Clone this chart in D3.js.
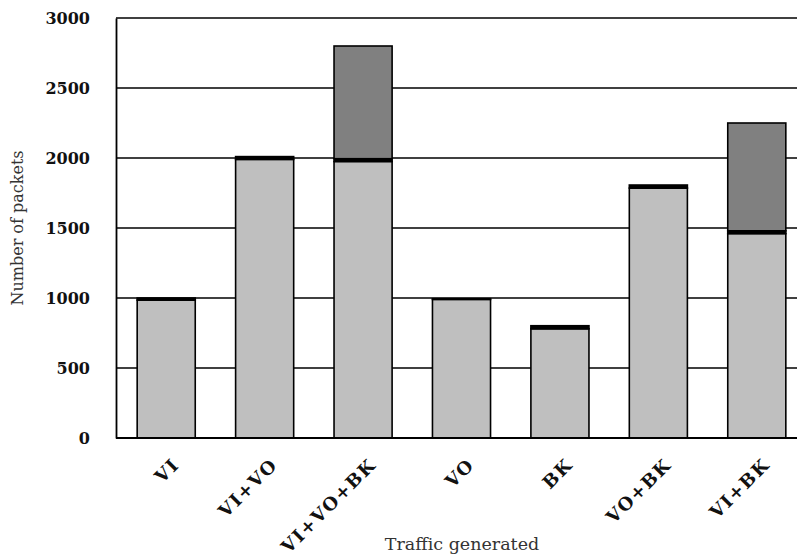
<!DOCTYPE html>
<html>
<head>
<meta charset="utf-8">
<script src="https://cdn.jsdelivr.net/npm/d3@7"></script>
<style>
  body { margin: 0; background: #fff; }
  svg { display: block; }
</style>
</head>
<body>
<svg id="chart"></svg>
<script>
const categories = ['VI', 'VI+VO', 'VI+VO+BK', 'VO', 'BK', 'VO+BK', 'VI+BK']
// stacked from bottom to top
const lightValues = [985, 1990, 1975, 990, 780, 1785, 1460]
const blackValues = [15, 20, 20, 5, 22, 22, 20]
const darkValues = [0, 0, 805, 0, 0, 0, 770]
const yTicks = [0, 500, 1000, 1500, 2000, 2500, 3000]

const width = 797
const height = 557
const margin = { top: 18, right: 0, bottom: 119, left: 116 }

const svg = d3.select('#chart')
  .attr('width', width)
  .attr('height', height)

const x = d3.scaleBand()
  .domain(categories)
  .range([margin.left + 1, 806])
  .paddingInner(0.41)
  .paddingOuter(0.205)

const y = d3.scaleLinear()
  .domain([0, 3000])
  .range([height - margin.bottom, margin.top])

// gridlines
svg.append('g')
  .selectAll('line')
  .data(yTicks.filter(d => d > 0))
  .join('line')
  .attr('x1', margin.left)
  .attr('x2', width)
  .attr('y1', d => y(d))
  .attr('y2', d => y(d))
  .attr('stroke', '#000')
  .attr('stroke-width', 1.5)

// y axis
const yAxis = svg.append('g')
  .attr('transform', `translate(${margin.left}, 0)`)
  .call(d3.axisLeft(y).tickValues(yTicks).tickFormat(d3.format('d')).tickSize(0).tickPadding(26))
yAxis.select('.domain').attr('stroke', '#000').attr('stroke-width', 1.8)
yAxis.selectAll('text')
  .attr('font-family', 'DejaVu Serif')
  .attr('font-weight', 'bold')
  .attr('font-size', 16)
  .attr('fill', '#111')

// stacked bars
const rows = categories.map((c, i) => ({
  cat: c, light: lightValues[i], black: blackValues[i], dark: darkValues[i]
}))
const stack = d3.stack().keys(['light', 'black', 'dark'])(rows)
const fills = { light: '#bfbfbf', black: '#000', dark: '#808080' }

svg.append('g')
  .selectAll('g')
  .data(stack)
  .join('g')
  .attr('fill', d => fills[d.key])
  .selectAll('rect')
  .data(d => d.filter(s => s[1] - s[0] > 0))
  .join('rect')
  .attr('x', d => x(d.data.cat))
  .attr('width', x.bandwidth())
  .attr('y', d => y(d[1]))
  .attr('height', d => y(d[0]) - y(d[1]))
  .attr('stroke', '#000')
  .attr('stroke-width', 1.6)

// bottom axis line
svg.append('line')
  .attr('x1', margin.left)
  .attr('x2', width)
  .attr('y1', y(0))
  .attr('y2', y(0))
  .attr('stroke', '#000')
  .attr('stroke-width', 2.2)

// x labels
svg.append('g')
  .selectAll('text')
  .data(categories)
  .join('text')
  .attr('transform', d => `translate(${x(d) + x.bandwidth() / 2 + 14}, ${y(0) + 28}) rotate(-45)`)
  .attr('text-anchor', 'end')
  .attr('font-family', 'DejaVu Serif')
  .attr('font-weight', 'bold')
  .attr('font-size', 18)
  .attr('letter-spacing', 1.5)
  .attr('fill', '#111')
  .text(d => d)

// axis titles
svg.append('text')
  .attr('x', 462)
  .attr('y', 550)
  .attr('text-anchor', 'middle')
  .attr('font-family', 'DejaVu Serif')
  .attr('font-size', 17.5)
  .attr('fill', '#333')
  .text('Traffic generated')

svg.append('text')
  .attr('transform', `translate(23, 228) rotate(-90)`)
  .attr('text-anchor', 'middle')
  .attr('font-family', 'DejaVu Serif')
  .attr('font-size', 16)
  .attr('fill', '#333')
  .text('Number of packets')
</script>
</body>
</html>
